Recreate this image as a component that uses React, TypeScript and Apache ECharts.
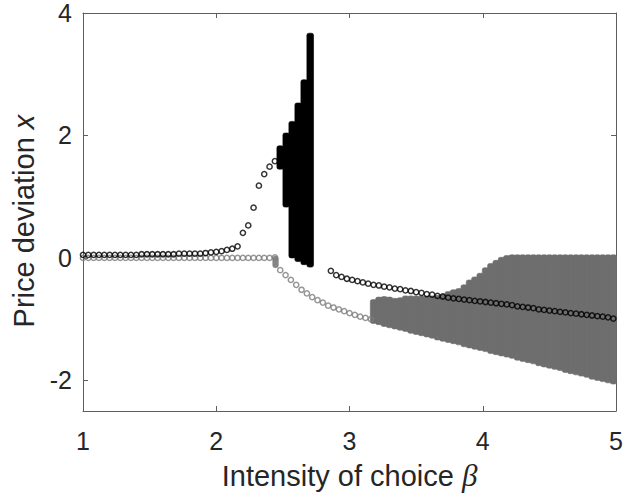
import React, { useEffect, useRef } from "react";
import * as echarts from "echarts";

// ---- data ----
const xTicks = [1, 2, 3, 4, 5];
const yTicks = [-2, 0, 2, 4];

// branch before the band (both circle series share these β values)
const betaPre = [1.00, 1.04, 1.08, 1.12, 1.16, 1.20, 1.24, 1.28, 1.32, 1.36, 1.40, 1.44, 1.48, 1.52, 1.56, 1.60, 1.64, 1.68, 1.72, 1.76, 1.80, 1.84, 1.88, 1.92, 1.96, 2.00, 2.04, 2.08, 2.12, 2.16, 2.20, 2.24, 2.28, 2.32, 2.36, 2.40, 2.44];
const blackPreY = [0.05, 0.05, 0.05, 0.05, 0.05, 0.05, 0.05, 0.05, 0.05, 0.05, 0.05, 0.06, 0.06, 0.06, 0.06, 0.06, 0.06, 0.06, 0.07, 0.07, 0.07, 0.07, 0.07, 0.08, 0.09, 0.10, 0.11, 0.13, 0.15, 0.19, 0.41, 0.53, 0.82, 1.18, 1.37, 1.49, 1.58];
const grayPreY = [0.0, 0.0, 0.0, 0.0, 0.0, 0.0, 0.0, 0.0, 0.0, 0.0, 0.0, 0.0, 0.0, 0.0, 0.0, 0.0, 0.0, 0.0, 0.0, 0.0, 0.0, 0.0, 0.0, 0.0, 0.0, 0.0, 0.0, 0.0, 0.0, 0.0, 0.0, 0.0, 0.0, 0.0, 0.0, 0.0, 0.01];

// gray branch after its drop
const betaGrayPost = [2.48, 2.52, 2.56, 2.60, 2.64, 2.68, 2.72, 2.76, 2.80, 2.84, 2.88, 2.92, 2.96, 3.00, 3.04, 3.08, 3.12, 3.16];
const grayPostY = [-0.20, -0.28, -0.36, -0.44, -0.52, -0.58, -0.64, -0.69, -0.73, -0.78, -0.81, -0.84, -0.87, -0.90, -0.93, -0.96, -0.98, -1.00];

// black branch after the chaotic band
const betaBlackPost = [2.86, 2.90, 2.94, 2.98, 3.02, 3.06, 3.10, 3.14, 3.18, 3.22, 3.26, 3.30, 3.34, 3.38, 3.42, 3.46, 3.50, 3.54, 3.58, 3.62, 3.66, 3.70, 3.74, 3.78, 3.82, 3.86, 3.90, 3.94, 3.98, 4.02, 4.06, 4.10, 4.14, 4.18, 4.22, 4.26, 4.30, 4.34, 4.38, 4.42, 4.46, 4.50, 4.54, 4.58, 4.62, 4.66, 4.70, 4.74, 4.78, 4.82, 4.86, 4.90, 4.94, 4.98];
const blackPostY = [-0.21, -0.28, -0.31, -0.34, -0.36, -0.38, -0.40, -0.42, -0.44, -0.45, -0.47, -0.48, -0.50, -0.51, -0.53, -0.54, -0.56, -0.57, -0.59, -0.60, -0.62, -0.63, -0.65, -0.66, -0.67, -0.68, -0.69, -0.70, -0.71, -0.72, -0.73, -0.74, -0.75, -0.76, -0.77, -0.79, -0.80, -0.81, -0.82, -0.84, -0.85, -0.86, -0.87, -0.88, -0.89, -0.90, -0.91, -0.92, -0.93, -0.94, -0.95, -0.96, -0.97, -0.99];

// black chaotic band (column ranges)
const blackBandBeta = [2.48, 2.525, 2.57, 2.615, 2.66, 2.705];
const blackBandLo = [1.45, 0.83, 0.00, -0.06, -0.11, -0.15];
const blackBandHi = [1.83, 2.04, 2.23, 2.53, 2.91, 3.67];

// small gray stack where the gray branch drops
const grayStubBeta = [2.445];
const grayStubLo = [-0.16];
const grayStubHi = [0.03];

// gray chaotic band (column ranges)
const grayBandBeta = [3.18, 3.22, 3.26, 3.30, 3.34, 3.38, 3.42, 3.46, 3.50, 3.54, 3.58, 3.62, 3.66, 3.70, 3.74, 3.78, 3.82, 3.86, 3.90, 3.94, 3.98, 4.02, 4.06, 4.10, 4.14, 4.18, 4.22, 4.26, 4.30, 4.34, 4.38, 4.42, 4.46, 4.50, 4.54, 4.58, 4.62, 4.66, 4.70, 4.74, 4.78, 4.82, 4.86, 4.90, 4.94, 4.98];
const grayBandLo = [-1.07, -1.09, -1.12, -1.14, -1.16, -1.18, -1.20, -1.23, -1.25, -1.27, -1.29, -1.31, -1.34, -1.36, -1.38, -1.40, -1.42, -1.45, -1.47, -1.49, -1.51, -1.53, -1.56, -1.58, -1.60, -1.62, -1.64, -1.67, -1.69, -1.71, -1.73, -1.76, -1.78, -1.80, -1.82, -1.84, -1.87, -1.89, -1.91, -1.93, -1.95, -1.98, -2.00, -2.02, -2.04, -2.06];
const grayBandHi = [-0.68, -0.64, -0.63, -0.64, -0.66, -0.65, -0.62, -0.62, -0.62, -0.62, -0.62, -0.62, -0.61, -0.60, -0.55, -0.52, -0.50, -0.44, -0.36, -0.31, -0.25, -0.16, -0.09, -0.04, 0.01, 0.04, 0.05, 0.05, 0.05, 0.05, 0.05, 0.05, 0.05, 0.05, 0.05, 0.05, 0.05, 0.05, 0.05, 0.05, 0.05, 0.05, 0.05, 0.05, 0.05, 0.05];

const AXIS_COLOR = "#5e5e5e";
const TEXT_COLOR = "#262626";
const FONT = "'Liberation Sans', Arial, Helvetica, sans-serif";

function bandRenderer(width: number, color: string, r: number) {
  return (params: any, api: any) => {
    const b = api.value(0);
    const lo = api.value(1);
    const hi = api.value(2);
    const p1 = api.coord([b - width / 2, hi]);
    const p2 = api.coord([b + width / 2, lo]);
    return {
      type: "rect",
      shape: { x: p1[0], y: p1[1], width: p2[0] - p1[0], height: p2[1] - p1[1], r },
      style: { fill: color, stroke: color, lineWidth: 0.6 },
    };
  };
}

export default function App() {
  const ref = useRef<HTMLDivElement>(null);

  useEffect(() => {
    if (!ref.current) return;
    const chart = echarts.init(ref.current, undefined, { renderer: "svg" });

    const zip = (xs: number[], ys: number[]) => xs.map((x, i) => [x, ys[i]]);
    const zip3 = (xs: number[], a: number[], b: number[]) => xs.map((x, i) => [x, a[i], b[i]]);

    const circleStyle = (c: string) => ({
      color: "rgba(0,0,0,0)",
      borderColor: c,
      borderWidth: 1.5,
    });

    const baseX = {
      type: "value" as const,
      min: 1,
      max: 5,
      interval: 1,
      splitLine: { show: false },
      axisLine: { show: true, onZero: false, lineStyle: { color: AXIS_COLOR, width: 1 } },
      axisTick: { show: true, inside: true, length: 5, lineStyle: { color: AXIS_COLOR } },
    };
    const baseY = {
      type: "value" as const,
      min: -2.5,
      max: 4,
      splitNumber: 3,
      splitLine: { show: false },
      axisLine: { show: true, onZero: false, lineStyle: { color: AXIS_COLOR, width: 1 } },
      axisTick: { show: true, inside: true, length: 5, customValues: yTicks, lineStyle: { color: AXIS_COLOR } },
    };

    chart.setOption({
      animation: false,
      backgroundColor: "#ffffff",
      grid: { left: 83, right: 7, top: 13, bottom: 83, containLabel: false },
      xAxis: [
        {
          ...baseX,
          position: "bottom",
          axisTick: { ...baseX.axisTick, customValues: xTicks },
          axisLabel: {
            show: true,
            customValues: xTicks,
            margin: 17,
            color: TEXT_COLOR,
            fontFamily: FONT,
            fontSize: 25,
          },
          name: "{a|Intensity of choice }{b|β}",
          nameLocation: "middle",
          nameGap: 49,
          nameTextStyle: {
            rich: {
              a: { fontFamily: FONT, fontSize: 29, color: TEXT_COLOR },
              b: { fontFamily: "'Liberation Serif', 'DejaVu Serif', serif", fontStyle: "italic", fontSize: 31, color: TEXT_COLOR },
            },
          },
        },
        {
          ...baseX,
          position: "top",
          axisTick: { ...baseX.axisTick, customValues: xTicks },
          axisLabel: { show: false },
        },
      ],
      yAxis: [
        {
          ...baseY,
          position: "left",
          axisLabel: {
            show: true,
            customValues: yTicks,
            margin: 11,
            color: TEXT_COLOR,
            fontFamily: FONT,
            fontSize: 25,
          },
          name: "{a|Price deviation }{b|x}",
          nameLocation: "middle",
          nameGap: 44,
          nameRotate: 90,
          nameTextStyle: {
            padding: [0, 18, 0, 0],
            rich: {
              a: { fontFamily: FONT, fontSize: 29, color: TEXT_COLOR },
              b: { fontFamily: FONT, fontStyle: "italic", fontSize: 29, color: TEXT_COLOR },
            },
          },
        },
        {
          ...baseY,
          position: "right",
          axisLabel: { show: false },
        },
      ],
      series: [
        {
          type: "custom",
          name: "grayBand",
          silent: true,
          clip: true,
          renderItem: bandRenderer(0.048, "#6e6e6e", 2),
          encode: { x: 0, y: [1, 2] },
          data: zip3(grayBandBeta, grayBandLo, grayBandHi),
          z: 1,
        },
        {
          type: "custom",
          name: "grayStub",
          silent: true,
          clip: true,
          renderItem: bandRenderer(0.042, "#858585", 2.5),
          encode: { x: 0, y: [1, 2] },
          data: zip3(grayStubBeta, grayStubLo, grayStubHi),
          z: 2,
        },
        {
          type: "scatter",
          name: "grayCircles",
          silent: true,
          symbol: "circle",
          symbolSize: 5.2,
          itemStyle: circleStyle("#7c7c7c"),
          data: [...zip(betaPre, grayPreY), ...zip(betaGrayPost, grayPostY)],
          z: 3,
        },
        {
          type: "custom",
          name: "blackBand",
          silent: true,
          clip: true,
          renderItem: bandRenderer(0.05, "#000000", 2),
          encode: { x: 0, y: [1, 2] },
          data: zip3(blackBandBeta, blackBandLo, blackBandHi),
          z: 4,
        },
        {
          type: "scatter",
          name: "blackCircles",
          silent: true,
          symbol: "circle",
          symbolSize: 5.2,
          itemStyle: circleStyle("#000000"),
          data: [...zip(betaPre, blackPreY), ...zip(betaBlackPost, blackPostY)],
          z: 5,
        },
      ],
    });

    return () => chart.dispose();
  }, []);

  return (
    <div
      ref={ref}
      style={{ position: "fixed", left: 0, top: 0, width: 626, height: 496, background: "#fff" }}
    />
  );
}
